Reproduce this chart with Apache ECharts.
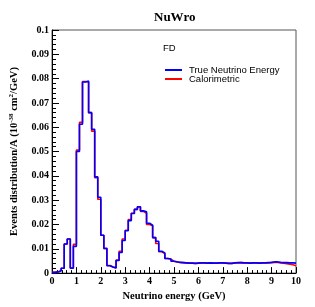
<!DOCTYPE html>
<html>
<head>
<meta charset="utf-8">
<script src="https://cdn.jsdelivr.net/npm/echarts@6/dist/echarts.min.js"></script>
<style>
html,body{margin:0;padding:0;background:#fff;}
#chart{width:315px;height:307px;}
</style>
</head>
<body>
<div id="chart"></div>
<script>
// Histogram: 80 bins from 0 to 10 GeV
const xMin = 0, xMax = 10, nBins = 80;
const xTicks = [0,1,2,3,4,5,6,7,8,9,10];
const yTicks = [0,0.01,0.02,0.03,0.04,0.05,0.06,0.07,0.08,0.09,0.1];

const trueVals = [
  0.0003,0.0005,0.0010,0.0020,0.0120,0.0140,0.0020,0.0110,
  0.0500,0.0612,0.0786,0.0790,0.0660,0.0592,0.0396,0.0312,
  0.0156,0.0102,0.0030,0.0025,0.0021,0.0052,0.0085,0.0134,
  0.0174,0.0216,0.0245,0.0262,0.0273,0.0256,0.0252,0.0205,
  0.0197,0.0146,0.0131,0.0090,0.0083,0.0060,0.0058,0.0049,
  0.0047,0.0044,0.0043,0.0042,0.0041,0.0041,0.0040,0.0041,
  0.0042,0.0042,0.0041,0.0042,0.0041,0.0041,0.0042,0.0042,
  0.0041,0.0040,0.0040,0.0042,0.0043,0.0043,0.0042,0.0042,
  0.0041,0.0042,0.0042,0.0041,0.0042,0.0042,0.0043,0.0044,
  0.0046,0.0046,0.0044,0.0043,0.0043,0.0042,0.0042,0.0041
];
const caloVals = [
  0.0003,0.0005,0.0010,0.0020,0.0120,0.0140,0.0022,0.0118,
  0.0506,0.0620,0.0788,0.0786,0.0660,0.0584,0.0392,0.0304,
  0.0156,0.0100,0.0031,0.0025,0.0021,0.0054,0.0090,0.0140,
  0.0176,0.0220,0.0246,0.0262,0.0272,0.0254,0.0246,0.0200,
  0.0195,0.0146,0.0122,0.0088,0.0080,0.0060,0.0057,0.0049,
  0.0046,0.0044,0.0043,0.0042,0.0041,0.0041,0.0040,0.0041,
  0.0042,0.0042,0.0041,0.0042,0.0041,0.0041,0.0042,0.0042,
  0.0041,0.0040,0.0040,0.0042,0.0042,0.0043,0.0042,0.0042,
  0.0041,0.0042,0.0042,0.0041,0.0042,0.0042,0.0042,0.0043,
  0.0044,0.0044,0.0042,0.0041,0.0039,0.0037,0.0034,0.0030
];

const binWidth = (xMax - xMin) / nBins;
function histPoints(vals){
  const pts = vals.map((v,i)=>[xMin + i*binWidth, v]);
  pts.push([xMax, vals[vals.length-1]]);
  return pts;
}

const serif = 'Liberation Serif';
const sans = 'Liberation Sans';

const chart = echarts.init(document.getElementById('chart'), null, {renderer:'canvas'});
chart.setOption({
  animation:false,
  backgroundColor:'#fff',
  title:[
    {text:'NuWro', left:149, top:6, textStyle:{fontFamily:serif, fontWeight:'bold', fontSize:13, color:'#000'}},
    {text:'FD', left:158, top:38, textStyle:{fontFamily:sans, fontWeight:'normal', fontSize:9.5, color:'#000'}}
  ],
  legend:{
    data:['True Neutrino Energy','Calorimetric'],
    orient:'vertical', left:160, top:60, itemGap:-1,
    itemWidth:17, itemHeight:2, icon:'rect',
    textStyle:{fontFamily:sans, fontSize:9.5, color:'#000', padding:[0,0,0,2]}
  },
  grid:{left:45, right:19, top:30, bottom:31, show:true, borderColor:'#555', borderWidth:1, containLabel:false},
  xAxis:{
    type:'value', min:xMin, max:xMax, interval:1,
    name:'Neutrino energy (GeV)', nameLocation:'middle', nameGap:9,
    nameTextStyle:{fontFamily:serif, fontWeight:'bold', fontSize:10.5, color:'#000'},
    axisLine:{show:true, onZero:false, lineStyle:{color:'#000', width:1}},
    axisTick:{show:true, inside:true, length:6, lineStyle:{color:'#000'}},
    minorTick:{show:true, splitNumber:5, length:3, lineStyle:{color:'#000'}},
    splitLine:{show:false},
    axisLabel:{fontFamily:serif, fontWeight:'bold', fontSize:10, color:'#000', margin:3,
      formatter:v=> xTicks.includes(v) ? String(v) : ''}
  },
  yAxis:{
    type:'value', min:0, max:0.1, interval:0.01,
    name:'{n|Events distribution/A (10}{s|-38}{n| cm}{s|2}{n|/GeV)}',
    nameLocation:'middle', nameGap:31,
    nameTextStyle:{fontFamily:serif, fontWeight:'bold', fontSize:10.5, color:'#000',
      rich:{
        n:{fontFamily:serif, fontWeight:'bold', fontSize:10.5, color:'#000', lineHeight:13},
        s:{fontFamily:serif, fontWeight:'bold', fontSize:7, color:'#000', lineHeight:13, verticalAlign:'top', padding:[0,0,5,0]}
      }},
    axisLine:{show:true, lineStyle:{color:'#000', width:1}},
    axisTick:{show:true, inside:true, length:7, lineStyle:{color:'#000'}},
    minorTick:{show:true, splitNumber:5, length:4, lineStyle:{color:'#000'}},
    splitLine:{show:false},
    axisLabel:{fontFamily:serif, fontWeight:'bold', fontSize:10, color:'#000', margin:3,
      formatter:v=>{ const r = +v.toFixed(2); return yTicks.some(t=>Math.abs(t-r)<1e-9) ? String(r) : ''; }}
  },
  series:[
    {name:'Calorimetric', type:'line', step:'end', showSymbol:false, z:2,
     lineStyle:{color:'#ff0000', width:1.6}, itemStyle:{color:'#ff0000'},
     data:histPoints(caloVals)},
    {name:'True Neutrino Energy', type:'line', step:'end', showSymbol:false, z:3,
     lineStyle:{color:'#0000ff', width:1.6}, itemStyle:{color:'#0000ff'},
     data:histPoints(trueVals)}
  ]
});
</script>
</body>
</html>
